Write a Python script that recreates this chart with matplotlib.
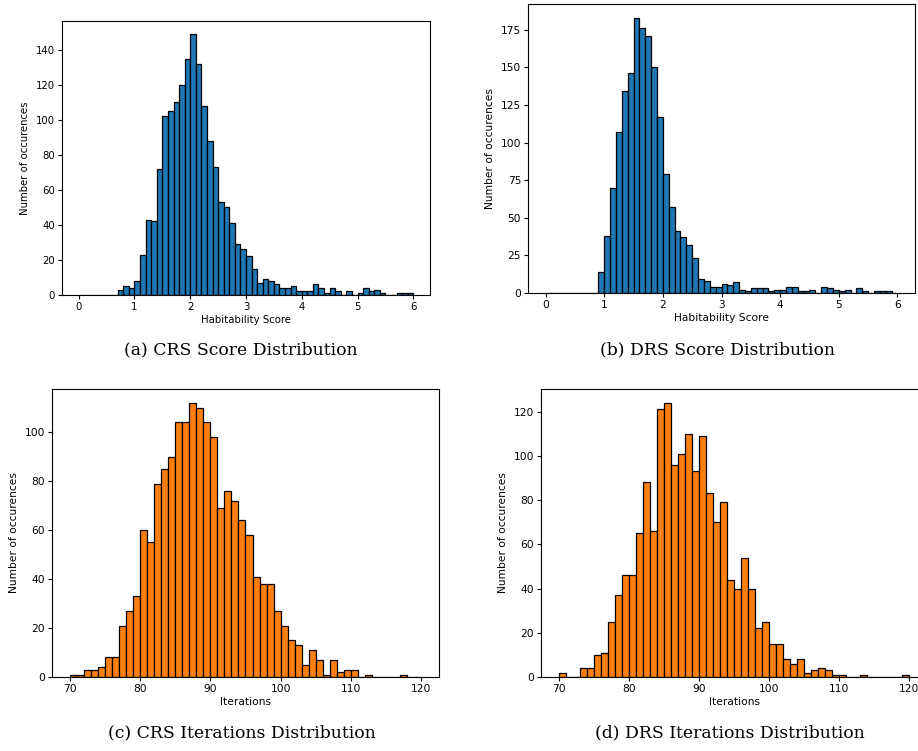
import matplotlib.pyplot as plt
import numpy as np

# Habitability score histograms, bins of 0.1 from 0 to 6
score_edges = np.linspace(0, 6, 61)
crs_score_counts = [0, 0, 0, 0, 0, 0, 0, 3, 5, 4,
                    8, 23, 43, 42, 72, 102, 105, 110, 120, 135,
                    149, 132, 108, 88, 73, 53, 50, 41, 29, 26,
                    22, 15, 7, 9, 8, 6, 4, 4, 5, 2,
                    2, 2, 6, 4, 1, 4, 2, 0, 2, 0,
                    1, 4, 2, 3, 1, 0, 0, 1, 1, 1]
drs_score_counts = [0, 0, 0, 0, 0, 0, 0, 0, 0, 14,
                    38, 70, 107, 134, 146, 183, 176, 171, 150, 117,
                    79, 57, 41, 37, 32, 23, 9, 8, 4, 4,
                    6, 5, 7, 2, 1, 3, 3, 3, 1, 2,
                    2, 4, 4, 1, 1, 2, 0, 4, 3, 2,
                    1, 2, 0, 3, 1, 0, 1, 1, 1, 0]

# Iteration histograms, bins of 1 from 70 to 120
iter_edges = np.arange(70, 121)
crs_iter_counts = [1, 1, 3, 3, 4, 8, 8, 21, 27, 33,
                   60, 55, 79, 85, 90, 104, 104, 112, 110, 104,
                   98, 69, 76, 72, 64, 58, 41, 38, 38, 27,
                   21, 15, 13, 5, 11, 7, 1, 7, 2, 3,
                   3, 0, 1, 0, 0, 0, 0, 1, 0, 0]
drs_iter_counts = [2, 0, 0, 4, 4, 10, 11, 25, 37, 46,
                   46, 65, 88, 66, 121, 124, 96, 101, 110, 93,
                   109, 83, 70, 79, 44, 40, 54, 40, 22, 25,
                   15, 15, 8, 6, 8, 2, 3, 4, 3, 1,
                   1, 0, 0, 1, 0, 0, 0, 0, 0, 1]

captions = ['(a) CRS Score Distribution', '(b) DRS Score Distribution',
            '(c) CRS Iterations Distribution', '(d) DRS Iterations Distribution']

W, H = 918, 751
fig = plt.figure(figsize=(W / 100, H / 100), dpi=100)


def px_axes(left, top, right, bottom):
    return fig.add_axes([left / W, 1 - bottom / H, (right - left) / W, (bottom - top) / H])


panels = [
    (px_axes(62, 21, 430, 295), score_edges, crs_score_counts, 'C0', 'Habitability Score', 7.3),
    (px_axes(528, 4, 915, 293), score_edges, drs_score_counts, 'C0', 'Habitability Score', 7.7),
    (px_axes(52, 389, 439, 677), iter_edges, crs_iter_counts, 'C1', 'Iterations', 7.7),
    (px_axes(541, 389, 927, 677), iter_edges, drs_iter_counts, 'C1', 'Iterations', 7.7),
]

for ax, edges, counts, color, xlabel, fs in panels:
    ax.hist(edges[:-1], bins=edges, weights=counts, color=color, edgecolor='black', linewidth=0.9)
    ax.set_xlabel(xlabel, fontsize=fs, labelpad=2)
    ax.set_ylabel('Number of occurences', fontsize=fs)
    ax.tick_params(labelsize=fs, length=3, pad=2)

# sub-figure captions below each panel
caption_pos = [(241, 350), (717, 350), (242, 733), (730, 733)]
for (x, y), cap in zip(caption_pos, captions):
    fig.text(x / W, 1 - y / H, cap, ha='center', va='center', fontsize=12.4,
             family='DejaVu Serif')

plt.savefig('out.png', dpi=100)
